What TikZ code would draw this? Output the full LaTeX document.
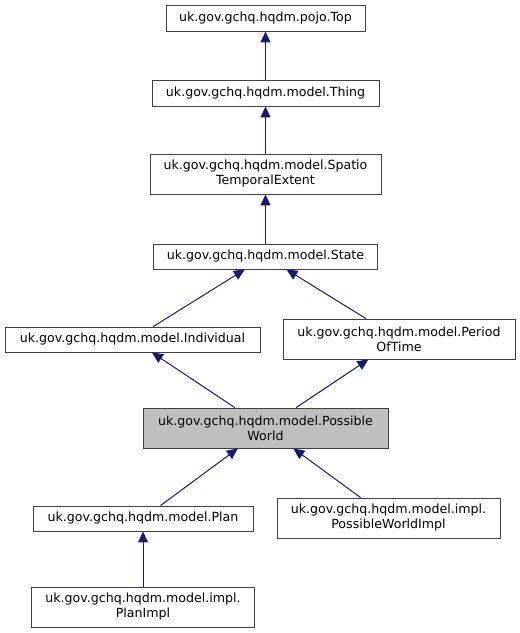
\documentclass[tikz,border=0pt]{standalone}
\usepackage{fontspec}
\setmainfont{DejaVu Sans}
\usetikzlibrary{arrows.meta}
\definecolor{edgeblue}{HTML}{191970}
\definecolor{boxline}{HTML}{404040}
\definecolor{hlfill}{HTML}{BFBFBF}
\begin{document}
\begin{tikzpicture}[x=1pt,y=-1pt,
  cls/.style={draw=boxline,line width=0.9pt,fill=white,inner sep=0pt,align=center,
    font=\fontsize{12.6}{15}\selectfont},
  inh/.style={draw=edgeblue,line width=1pt,-{Triangle[length=11pt,width=10pt,fill=edgeblue]}}]
\useasboundingbox (0,0) rectangle (520,633);
\node[cls,minimum width=199pt,minimum height=26pt] (top) at (265.5,18) {uk.gov.gchq.hqdm.pojo.Top};
\node[cls,minimum width=227pt,minimum height=26pt] (thing) at (265.5,93) {uk.gov.gchq.hqdm.model.Thing};
\node[cls,minimum width=231pt,minimum height=40pt] (ste) at (265.5,174) {uk.gov.gchq.hqdm.model.Spatio\\TemporalExtent};
\node[cls,minimum width=224pt,minimum height=25pt] (state) at (265.5,256.5) {uk.gov.gchq.hqdm.model.State};
\node[cls,minimum width=255pt,minimum height=25pt] (ind) at (132.5,339.5) {uk.gov.gchq.hqdm.model.Individual};
\node[cls,minimum width=232pt,minimum height=40pt] (pot) at (399,339) {uk.gov.gchq.hqdm.model.Period\\OfTime};
\node[cls,fill=hlfill,minimum width=245pt,minimum height=40pt] (pw) at (265.5,428) {uk.gov.gchq.hqdm.model.Possible\\World};
\node[cls,minimum width=220pt,minimum height=25pt] (plan) at (143,518.5) {uk.gov.gchq.hqdm.model.Plan};
\node[cls,minimum width=223pt,minimum height=40pt] (pwi) at (388.5,518) {uk.gov.gchq.hqdm.model.impl.\\PossibleWorldImpl};
\node[cls,minimum width=223pt,minimum height=40pt] (pli) at (143,607) {uk.gov.gchq.hqdm.model.impl.\\PlanImpl};
\draw[inh] (thing) -- (top);
\draw[inh] (ste) -- (thing);
\draw[inh] (state) -- (ste);
\draw[inh] (ind) -- (state);
\draw[inh] (pot) -- (state);
\draw[inh] (pw) -- (ind);
\draw[inh] (pw) -- (pot);
\draw[inh] (plan) -- (pw);
\draw[inh] (pwi) -- (pw);
\draw[inh] (pli) -- (plan);
\end{tikzpicture}
\end{document}
